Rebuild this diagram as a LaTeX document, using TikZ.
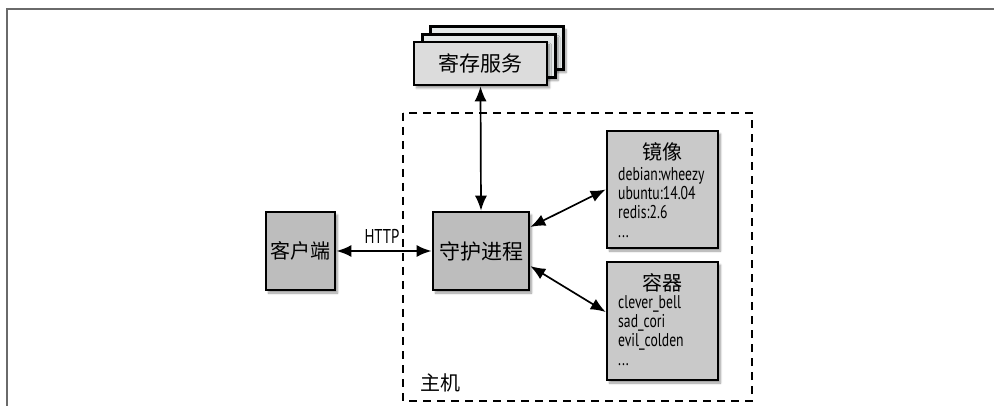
\documentclass[tikz,border=0pt]{standalone}
\usepackage{fontspec}
\setmainfont{PT Sans}[FakeStretch=0.74]
\newfontfamily\cjk{Noto Sans CJK SC}
\usetikzlibrary{arrows.meta,shadows.blur}

\definecolor{darkbox}{HTML}{BDBDBD}
\definecolor{lightbox}{HTML}{C9C9C9}
\definecolor{regfront}{HTML}{DCDCDC}
\definecolor{regback}{HTML}{E5E9E9}
\definecolor{framegray}{HTML}{6A6A6A}

\def\hostbox{(403,113) rectangle (752,401)}
\def\cjksize{\cjk\fontsize{20}{20}\selectfont}

\begin{document}
\begin{tikzpicture}[x=1pt,y=-1pt,
    box/.style={draw=black,line width=2.6pt,inner sep=0pt,
      blur shadow={shadow xshift=2.5pt,shadow yshift=-3pt,shadow blur steps=6}},
    regbox/.style={box,minimum width=133pt,minimum height=43pt},
    listtext/.style={anchor=north west,align=left,inner sep=0pt,
      font=\fontsize{18.5}{19}\selectfont},
    link/.style={line width=1.7pt,{Latex[length=15pt,width=12pt]}-{Latex[length=15pt,width=12pt]}}]
  \useasboundingbox (0,0) rectangle (994,406);
  \draw[framegray,line width=1.5pt] (7,406) -- (7,9) -- (994,9);

  % registry stack
  \node[regbox,fill=regback] (reg3) at (497,48) {};
  \node[regbox,fill=regback] (reg2) at (489,56) {};
  \node[regbox,fill=regfront] (reg) at (480.5,63.5) {\cjk\fontsize{21}{21}\selectfont 寄存服务};

  % host
  \draw[line width=2.4pt,dash pattern=on 8pt off 6pt] \hostbox;
  \node (host) at (440,383) {\cjksize 主机};

  \node[box,fill=darkbox,minimum width=69pt,minimum height=78pt] (client) at (300.5,251) {\cjksize 客户端};
  \node[box,fill=darkbox,minimum width=96pt,minimum height=78pt] (daemon) at (481,251) {\cjk\fontsize{21}{21}\selectfont 守护进程};

  \node[box,fill=lightbox,minimum width=111pt,minimum height=117pt] (imgs) at (662.5,189.5) {};
  \node (imgtitle) at (662.5,152) {\cjksize 镜像};
  \node[listtext] (imglist) at (618,167) {debian:wheezy\\ubuntu:14.04\\redis:2.6\\...};

  \node[box,fill=lightbox,minimum width=111pt,minimum height=118pt] (cont) at (662.5,321) {};
  \node (conttitle) at (662.5,283) {\cjksize 容器};
  \node[listtext] (contlist) at (618,295) {clever\_bell\\sad\_cori\\evil\_colden\\...};

  % connections
  \draw[link,line width=2.3pt] (client.east) -- (daemon.west)
    node[midway,above=3pt,xshift=-2pt,font=\fontsize{20}{20}\selectfont] (http) {HTTP};
  \draw[link] (reg.south) -- (daemon.north);
  \draw[link] (daemon.26) -- (imgs.west);
  \draw[link] (daemon.-17) -- (cont.171);
\end{tikzpicture}
\end{document}
